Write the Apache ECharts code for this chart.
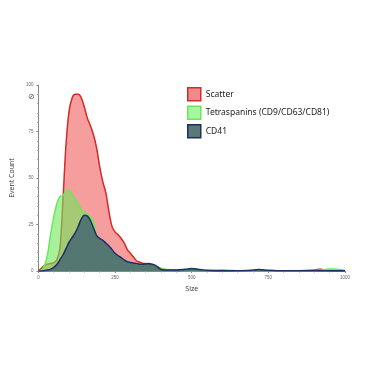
<!DOCTYPE html>
<html><head><meta charset="utf-8">
<script src="https://cdn.jsdelivr.net/npm/echarts@6/dist/echarts.min.js"></script>
<style>html,body{margin:0;padding:0;background:#fff}#c{width:375px;height:375px}</style>
</head><body><div id="c"></div>
<script>
const sizes = [0,10,20,30,40,50,60,70,80,90,100,110,120,130,140,150,160,170,180,190,200,210,220,230,240,250,260,270,280,290,300,310,320,330,340,350,360,370,380,390,400,420,450,480,500,520,550,580,600,620,650,700,720,750,780,800,850,900,920,940,960,980,1000];
const scatter = [0,1.5,3,3.8,4,4.5,6,12,38,68,86,93,95,95,93,88,82,78,73,66,56,48,42,32,24,21,19.5,17.5,15,11.5,9.5,7.5,5.5,4.8,4.2,4,3.8,3,2.6,2.2,1.2,0.5,0.3,0.3,0.4,0.3,0.2,0.2,0.2,0.1,0.1,0.1,0.1,0.1,0.1,0.1,0.2,0.6,0.9,0.4,0.2,0.1,0];
const tetraspanins = [0,0.5,3,9,20,29,36,40,40.5,43,43.5,41,38.5,36,33,31.5,30.5,29,26,19,16,14,12.5,11,9.5,8.5,7.5,6.5,5.5,4.5,3.8,3.2,3,2.8,2.6,2.8,2.8,2.6,2.4,2,1.5,0.8,0.5,0.3,0.3,0.3,0.3,0.6,0.7,0.4,0.2,0.2,0.2,0.2,0.2,0.2,0.2,0.3,0.4,0.9,1.1,0.8,0.3];
const cd41 = [0,0,0.2,0.5,1,2,3.5,6,8.6,12,15.5,18,20.5,24,28,30,29.5,27,23,19,17.5,16.5,15,13.5,11.5,9.5,8.2,7.2,6,5,4.6,4.3,4.1,3.7,3.6,3.8,4,3.7,3.2,2,0.8,0.5,0.5,0.9,1.3,1.0,0.4,0.2,0.2,0.2,0.2,0.5,0.8,0.4,0.2,0.2,0.1,0.1,0.1,0.1,0.1,0.1,0.1];
const seriesNames = ['Scatter','Tetraspanins (CD9/CD63/CD81)','CD41'];
const xTicks = [0,250,500,750,1000];
const yTicks = [0,25,50,75,100];

const lineColors = ['#d42a2a','#6ae85a','#1e2f66'];
const fillColors = ['rgba(238,60,60,0.5)','rgba(110,232,90,0.6)','rgba(56,90,112,0.74)'];
const legendFill = ['#f08a8a','#a6f5a0','#5a7878'];
const values = [scatter, tetraspanins, cd41];

const chart = echarts.init(document.getElementById('c'));
chart.setOption({
  animation:false,
  grid:{left:37,right:30,top:85,bottom:104},
  legend:{
    orient:'vertical', left:182, top:82, itemWidth:13, itemHeight:13, itemGap:4,
    icon:'rect',
    textStyle:{fontSize:8.5,color:'#222',fontFamily:'Noto Sans'},
    data: seriesNames.map((n,i)=>({name:n, itemStyle:{color:legendFill[i], borderColor:lineColors[i], borderWidth:1.5}}))
  },
  xAxis:{
    type:'value', min:0, max:1000, interval:250,
    name:'Size', nameLocation:'middle', nameGap:14,
    nameTextStyle:{fontSize:7,color:'#333',fontFamily:'Open Sans'},
    axisLine:{lineStyle:{color:'#888'}},
    axisTick:{show:true,length:2,lineStyle:{color:'#888'}},
    minorTick:{show:true,splitNumber:5,length:1.5,lineStyle:{color:'#999'}},
    axisLabel:{fontSize:4.5,color:'#666',margin:4,formatter:v=>xTicks.includes(v)?String(v):''},
    splitLine:{show:false}
  },
  yAxis:{
    type:'value', min:0, max:100, interval:25,
    name:'Event Count', nameLocation:'middle', nameGap:15, nameRotate:90,
    nameTextStyle:{fontSize:7,color:'#333',fontFamily:'Open Sans'},
    axisLine:{show:true,lineStyle:{color:'#888'}},
    axisTick:{show:true,length:2,lineStyle:{color:'#888'}},
    minorTick:{show:true,splitNumber:5,length:1.5,lineStyle:{color:'#aaa'}},
    axisLabel:{fontSize:4.5,color:'#666',margin:5,formatter:v=>yTicks.includes(v)?String(v):''},
    splitLine:{show:false}
  },
  graphic:[{type:'text',left:28,top:93,style:{text:'⊘',fontSize:8,fill:'#555'}}],
  series: seriesNames.map((n,i)=>({
    name:n, type:'line', smooth:0.35, symbol:'none',
    data: sizes.map((s,k)=>[s, values[i][k]]),
    lineStyle:{color:lineColors[i], width:1.5},
    itemStyle:{color:legendFill[i]},
    areaStyle:{color:fillColors[i], opacity:1},
    z:2+i
  }))
});
</script></body></html>
